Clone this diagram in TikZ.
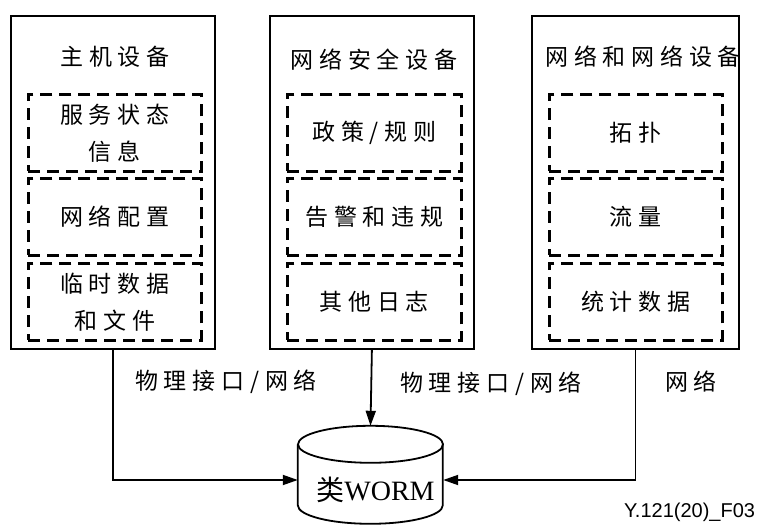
\documentclass[tikz,border=0pt]{standalone}
\usepackage{fontspec}
\setmainfont{Liberation Serif}
\newfontfamily\cjk[LetterSpace=25]{Noto Sans CJK SC}
\newfontfamily\cjkn{Noto Sans CJK SC}
\newfontfamily\figsans{Liberation Sans}
\usetikzlibrary{arrows.meta,calc}
\begin{document}
\begin{tikzpicture}[x=1pt,y=-1pt,
  panel/.style={draw, line width=1.8pt, minimum height=333pt, anchor=north west, inner sep=0pt},
  subbox/.style={draw, line width=2.6pt, dash pattern=on 12pt off 7pt, anchor=north west,
     inner sep=0pt, minimum height=77pt, align=center, font=\cjk\fontsize{23}{37}\selectfont},
  title/.style={font=\cjk\fontsize{23}{30}\selectfont, inner sep=0pt},
  lbl/.style={font=\cjk\fontsize{23}{30}\selectfont, inner sep=0pt},
  conn/.style={line width=1.8pt, -{Triangle[length=15pt,width=10pt]}},
  cyl/.style={line width=1.8pt}
]
\useasboundingbox (0,0) rectangle (764,526);
% panels
\node[panel, minimum width=204pt] (host) at (10,15) {};
\node[panel, minimum width=204pt] (sec) at (269,15) {};
\node[panel, minimum width=207pt] (net) at (531,15) {};
% titles
\node[title] (hostT) at (115,57) {主机设备};
\node[title] (secT) at (374,60) {网络安全设备};
\node[title] (netT) at (643,57) {网络和网络设备};
% host sub boxes
\node[subbox, minimum width=173pt] (h1) at (27,93) {服务状态\\信息};
\node[subbox, minimum width=173pt] (h2) at (27,177) {网络配置};
\node[subbox, minimum width=173pt] (h3) at (27,262) {临时数据\\和文件};
% security sub boxes
\node[subbox, minimum width=174pt] (s1) at (286,93) {政策/规则};
\node[subbox, minimum width=174pt] (s2) at (286,177) {告警和违规};
\node[subbox, minimum width=174pt] (s3) at (286,262) {其他日志};
% network sub boxes
\node[subbox, minimum width=173pt] (n1) at (548,93) {拓扑};
\node[subbox, minimum width=173pt] (n2) at (548,177) {流量};
\node[subbox, minimum width=173pt] (n3) at (548,262) {统计数据};
% WORM storage
\node[minimum width=145pt, minimum height=128pt, inner sep=0pt] (worm) at (370.5,490)
  {\hspace*{10pt}{\cjkn\fontsize{28}{30}\selectfont 类}{\fontsize{28}{30}\selectfont WORM}};
\draw[cyl] ($(worm.north)+(0,18.5)$) ellipse [x radius=72.5pt, y radius=18.5pt];
\draw[cyl] ($(worm.north west)+(0,18.5)$) -- ++(0,61)
  arc[start angle=180, end angle=360, x radius=72.5pt, y radius=18.5pt] -- ++(0,-61);
% connectors
\draw[conn] (host.south) |- ([yshift=10pt]worm.west);
\draw[conn] (sec.south) -- (worm.north);
\draw[conn] (net.south) |- ([yshift=10pt]worm.east);
% labels
\node[lbl] (l1) at (226,382) {物理接口/网络};
\node[lbl] (l2) at (491,384) {物理接口/网络};
\node[lbl] (l3) at (691,382) {网络};
\node[font=\figsans\fontsize{20}{20}\selectfont, anchor=north west, inner sep=0pt] (fig) at (624,503) {Y.121(20)\_F03};
\end{tikzpicture}
\end{document}
